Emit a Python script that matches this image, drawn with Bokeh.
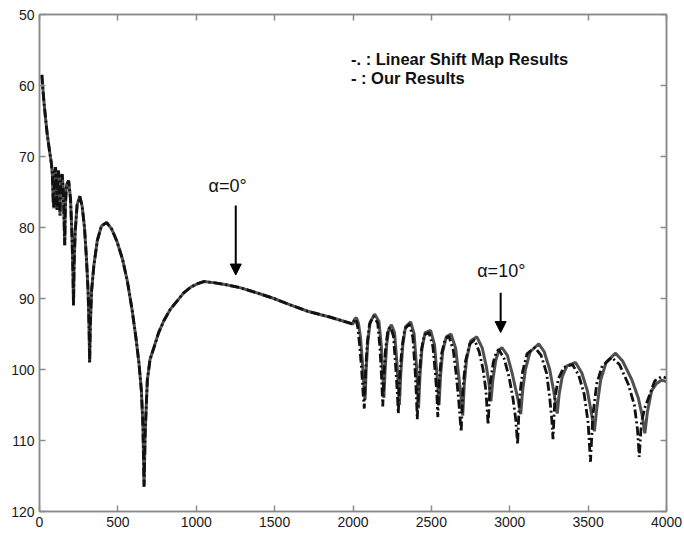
from bokeh.plotting import figure
from bokeh.models import Range1d, FixedTicker, LinearAxis, Arrow, NormalHead
from bokeh.core.properties import value
from bokeh.embed import file_html
from bokeh.resources import INLINE

# ---- data ----
# shared part (alpha = 0 deg), both methods coincide
common_x = [15, 20, 28, 38, 49, 60, 70, 76, 82, 88, 92, 97, 102, 107, 112, 116, 121, 126, 131, 136,
            145, 152, 158, 161, 165, 172, 186, 198, 207, 213, 217, 221, 228, 240, 257, 272, 287, 300,
            310, 316, 320, 324, 332, 347, 369, 395, 428, 460, 495, 530, 560, 590, 615, 635, 650, 660,
            667, 674, 688, 705, 730, 760, 794, 835, 880, 920, 965, 1010, 1050, 1120, 1200, 1284, 1400,
            1495, 1600, 1711, 1850, 2000]
common_y = [58.5, 60.0, 62.2, 64.5, 66.8, 68.6, 70.1, 71.0, 72.5, 76.5, 77.3, 72.5, 71.5, 73.0, 77.5, 72.8,
            72.0, 74.0, 78.3, 73.0, 72.5, 75.0, 80.0, 82.5, 77.0, 74.0, 73.4, 76.0, 81.0, 86.0, 91.0, 85.0,
            80.5, 76.8, 75.6, 77.0, 80.0, 84.5, 89.0, 94.0, 99.0, 94.0, 89.0, 85.3, 81.8, 79.8, 79.3, 80.2,
            82.0, 84.5, 87.5, 91.5, 95.5, 99.2, 103.0, 108.0, 116.5, 109.0, 101.5, 98.6, 96.9, 94.8, 93.1,
            91.5, 90.3, 89.2, 88.4, 87.9, 87.6, 87.8, 88.1, 88.5, 89.3, 90.0, 90.9, 91.8, 92.6, 93.6]

# "Our Results" (solid) beyond 2000
ours_x = [2010, 2022, 2035, 2048, 2060, 2070, 2077, 2084, 2095, 2110, 2138, 2165, 2180, 2190, 2197, 2205,
          2215, 2228, 2245, 2265, 2280, 2290, 2296, 2305, 2318, 2335, 2368, 2390, 2405, 2412, 2418, 2427,
          2440, 2460, 2495, 2520, 2535, 2543, 2549, 2558, 2572, 2595, 2625, 2655, 2675, 2690, 2700, 2710,
          2725, 2750, 2790, 2825, 2850, 2868, 2880, 2892, 2910, 2930, 2950, 2985, 3015, 3040, 3060, 3070,
          3082, 3100, 3130, 3185, 3220, 3255, 3280, 3295, 3303, 3315, 3335, 3365, 3420, 3460, 3495, 3520,
          3540, 3555, 3580, 3615, 3675, 3720, 3780, 3820, 3845, 3862, 3878, 3905, 3935, 3968, 4000]
ours_y = [92.9, 92.7, 93.5, 95.5, 99.0, 102.5, 104.2, 100.0, 96.0, 93.3, 92.2, 93.2, 96.5, 100.5, 104.0,
          100.0, 96.5, 94.3, 93.7, 94.8, 99.0, 102.5, 105.0, 100.5, 96.5, 94.0, 93.3, 95.0, 99.5, 102.5,
          105.5, 101.0, 97.0, 94.8, 94.5, 96.5, 100.5, 103.0, 105.0, 101.0, 97.5, 95.4, 95.0, 97.0, 101.0,
          104.0, 106.5, 102.0, 98.5, 96.0, 95.4, 97.0, 99.5, 102.0, 104.5, 101.5, 98.8, 97.3, 96.9, 98.0,
          100.5, 103.0, 105.0, 106.3, 103.0, 100.0, 97.5, 96.4, 97.5, 100.0, 103.0, 105.0, 106.2, 103.5,
          101.0, 99.5, 99.0, 100.5, 103.0, 106.0, 108.7, 105.5, 101.5, 99.0, 97.7, 98.8, 101.5, 104.0,
          106.5, 109.0, 106.0, 103.0, 102.0, 101.5, 101.7]

# "Linear Shift Map Results" (dash-dot) beyond 2000
lsm_x = [2008, 2018, 2030, 2042, 2055, 2065, 2072, 2080, 2090, 2105, 2132, 2158, 2172, 2182, 2190, 2198,
         2208, 2222, 2238, 2258, 2272, 2282, 2289, 2298, 2312, 2330, 2360, 2382, 2396, 2404, 2410, 2420,
         2435, 2455, 2485, 2510, 2525, 2535, 2541, 2550, 2565, 2588, 2612, 2640, 2660, 2675, 2690, 2702,
         2718, 2745, 2775, 2805, 2830, 2848, 2862, 2875, 2895, 2915, 2930, 2965, 2995, 3020, 3038, 3050,
         3062, 3082, 3110, 3160, 3200, 3235, 3255, 3268, 3276, 3288, 3310, 3345, 3400, 3440, 3475, 3500,
         3515, 3530, 3555, 3590, 3650, 3700, 3755, 3795, 3815, 3826, 3840, 3860, 3885, 3925, 3968, 4000]
lsm_y = [93.0, 92.9, 94.0, 96.5, 100.0, 103.5, 105.5, 100.5, 96.5, 93.6, 92.5, 93.5, 97.0, 101.0, 105.2,
         100.5, 97.0, 94.6, 94.0, 95.3, 99.5, 103.0, 106.2, 101.0, 97.0, 94.3, 93.6, 95.5, 100.0, 103.5,
         107.0, 101.5, 97.5, 95.1, 94.8, 96.8, 100.5, 103.5, 106.7, 101.5, 97.8, 95.7, 95.3, 97.3, 101.0,
         104.5, 108.8, 102.5, 98.8, 96.4, 95.8, 97.5, 100.0, 103.0, 107.8, 102.0, 99.0, 97.5, 97.2, 98.5,
         101.0, 104.0, 107.0, 110.5, 104.0, 100.3, 97.8, 96.9, 98.0, 100.5, 104.0, 107.0, 109.8, 104.0,
         101.3, 99.7, 99.3, 100.8, 103.5, 107.5, 113.0, 106.5, 102.0, 99.5, 98.3, 99.3, 102.0, 105.0,
         108.5, 112.3, 107.5, 105.5, 104.0, 101.6, 101.0, 101.2]

x_ticks = [0, 500, 1000, 1500, 2000, 2500, 3000, 3500, 4000]
y_ticks = [50, 60, 70, 80, 90, 100, 110, 120]

legend_lines = ["-. : Linear Shift Map Results", "- : Our Results"]
annot_0 = "α=0°"
annot_10 = "α=10°"

FONT = "Liberation Sans"
AXIS_GRAY = "#8a8a8a"

p = figure(width=684, height=534, output_backend="svg", toolbar_location=None,
           x_range=Range1d(0, 4000), y_range=Range1d(120, 50),
           min_border_left=39, min_border_right=18, min_border_top=14, min_border_bottom=23,
           x_axis_location=None, y_axis_location=None)
p.grid.visible = False
p.outline_line_color = AXIS_GRAY
p.outline_line_width = 1.5
p.background_fill_color = "white"
p.border_fill_color = "white"


def make_axis(ticks, labels=True):
    ax = LinearAxis(ticker=FixedTicker(ticks=ticks))
    ax.axis_line_color = AXIS_GRAY
    ax.axis_line_width = 1.5
    ax.major_tick_line_color = AXIS_GRAY
    ax.major_tick_line_width = 1.5
    ax.major_tick_in = 6
    ax.major_tick_out = 0
    ax.minor_tick_line_color = None
    ax.major_label_text_font = FONT
    ax.major_label_text_font_size = "14px"
    ax.major_label_text_color = "#1a1a1a"
    ax.major_label_standoff = 5
    if not labels:
        ax.major_label_text_color = None
        ax.major_label_overrides = {t: " " for t in ticks}
        ax.major_label_standoff = 0
    return ax


p.add_layout(make_axis(x_ticks), "below")
p.add_layout(make_axis(y_ticks), "left")
p.add_layout(make_axis(x_ticks, labels=False), "above")
p.add_layout(make_axis(y_ticks, labels=False), "right")

# solid curve (Our Results)
p.line(common_x + ours_x, common_y + ours_y, line_color="#505050", line_width=3)
# dash-dot curve (Linear Shift Map)
p.line(common_x + lsm_x, common_y + lsm_y, line_color="#111111", line_width=2.8,
       line_dash="9 3 2 3")

# legend text
p.text(x=[1987, 1987], y=[56.2, 59.0], text=legend_lines, text_font=value(FONT),
       text_font_size="16.5px", text_font_style="bold", text_color="#111111",
       text_baseline="middle", text_align="left")

# annotations
p.text(x=[1200], y=[74.1], text=[annot_0], text_font=value(FONT), text_font_size="18px",
       text_color="#111111", text_baseline="middle", text_align="center")
p.text(x=[2946], y=[86.1], text=[annot_10], text_font=value(FONT), text_font_size="18px",
       text_color="#111111", text_baseline="middle", text_align="center")

p.add_layout(Arrow(end=NormalHead(size=11, fill_color="black", line_color="black"),
                   x_start=1252, y_start=76.9, x_end=1252, y_end=86.7,
                   line_color="black", line_width=2))
p.add_layout(Arrow(end=NormalHead(size=11, fill_color="black", line_color="black"),
                   x_start=2942, y_start=89.2, x_end=2942, y_end=94.8,
                   line_color="black", line_width=2))

open("out.html", "w").write(file_html(p, INLINE))
